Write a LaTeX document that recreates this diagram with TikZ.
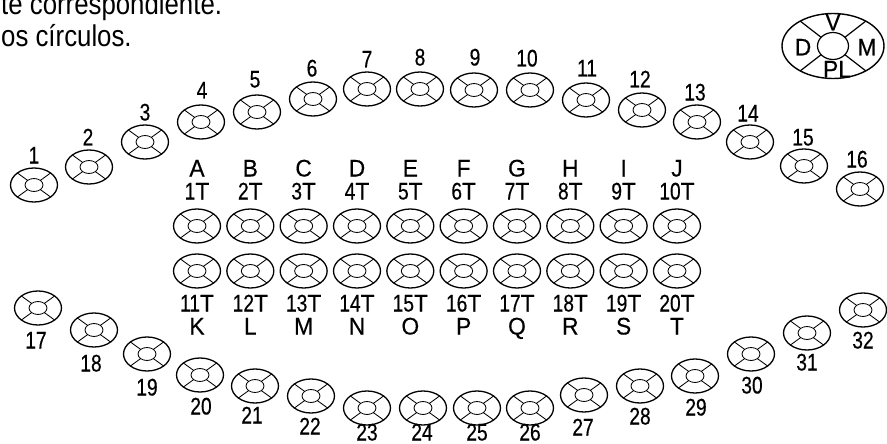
\documentclass[tikz,border=0pt]{standalone}
\usepackage{fontspec}
\setmainfont{Liberation Sans}
\newfontfamily\labfont{Liberation Sans}[FakeStretch=0.8, FakeBold=0.4]
\newfontfamily\letfont{Liberation Sans}[FakeStretch=0.95, FakeBold=0.4]
\newfontfamily\topfont{Liberation Sans}[FakeStretch=0.86]
\usetikzlibrary{shapes.geometric,calc}
\tikzset{
  seatring/.style={draw, ellipse, minimum width=47pt, minimum height=34pt, inner sep=0pt, line width=1.3pt},
  seatin/.style={line width=0.85pt},
  lab/.style={font={\fontsize{24pt}{24pt}\labfont}, inner sep=0pt, text height=17pt, text depth=0pt},
  letlab/.style={font={\fontsize{24pt}{24pt}\letfont}, inner sep=0pt, text height=17pt, text depth=0pt},
  toptext/.style={font={\fontsize{30pt}{30pt}\topfont}, inner sep=0pt, anchor=base west},
  legring/.style={draw, ellipse, minimum width=102pt, minimum height=65pt, inner sep=0pt, line width=1.4pt},
  legin/.style={draw, ellipse, minimum width=31pt, minimum height=27pt, inner sep=0pt, line width=1.2pt},
}
\newcommand\seat[3]{%
  \node[seatring] (#1) at (#2,#3) {};
  \begin{scope}[shift={(#1.center)}, seatin]
    \draw (0,0) ellipse [x radius=9pt, y radius=6.5pt];
    \foreach \a in {45,135,225,315}
      \draw (\a:9pt and 6.5pt) -- (\a:23.5pt and 17pt);
  \end{scope}}
\begin{document}
\begin{tikzpicture}[x=1pt, y=-1pt]
\useasboundingbox (0,0) rectangle (887,444);
% top text fragments
\node[toptext] (t1) at (1,15) {te correspondiente.};
\node[toptext] (t2) at (1,47) {os círculos.};
% legend
\node[legring] (leg) at (833,46) {};
\node[legin] (legc) at (833,46) {};
\foreach \ai/\ao in {40/50,140/130,220/230,320/310}
  \draw[line width=1.2pt] ($(legc.center)+(\ai:15.5pt and 13.5pt)$) -- ($(leg.center)+(\ao:51pt and 32.5pt)$);
\node[letlab] (lV) at (833,22) {V};
\node[letlab] (lD) at (803,47) {D};
\node[letlab] (lM) at (867,47) {M};
\node[letlab] (lPL) at (837,69) {PL};
% outer seats
\foreach \n/\x/\y/\lx/\ly in {
  1/34/185/34/155, 2/89/167/88/137, 3/145/142/145/112, 4/201/122/202/90,
  5/257/112/255/79, 6/313/99/312/68, 7/367/89/367/59, 8/420/89/420/57,
  9/474/90/475/57, 10/530/90/527/58, 11/586/100/587/68, 12/642/110/640/79,
  13/697/122/695/92, 14/750/142/748/113, 15/804/166/803/137, 16/860/189/857/159,
  17/38/308/36/340, 18/94/330/91/363, 19/147/354/147/387, 20/200/375/201/406,
  21/255/386/252/415, 22/311/396/310/426, 23/367/408/367/432, 24/423/408/422/432,
  25/477/408/477/432, 26/530/408/530/432, 27/584/395/583/427, 28/640/386/640/416,
  29/695/376/696/407, 30/751/354/752/385, 31/807/333/807/362, 32/863/310/863/340}{
  \seat{s\n}{\x}{\y}
  \node[lab] (ls\n) at (\lx,\ly) {\n};
}
% central rows
\foreach \i/\top/\bot in {1/A/K,2/B/L,3/C/M,4/D/N,5/E/O,6/F/P,7/G/Q,8/H/R,9/I/S,10/J/T}{
  \pgfmathsetmacro\xx{197+53.33*(\i-1)}
  \pgfmathtruncatemacro\j{\i+10}
  \seat{t\i}{\xx}{226}
  \seat{t\j}{\xx}{271}
  \node[lab] (lt\i) at (\xx,191) {\i{\letfont T}};
  \node[letlab] (la\i) at (\xx,168) {\top};
  \node[lab] (lt\j) at (\xx,303) {\j{\letfont T}};
  \node[letlab] (lb\i) at (\xx,326) {\bot};
}
\end{tikzpicture}
\end{document}
